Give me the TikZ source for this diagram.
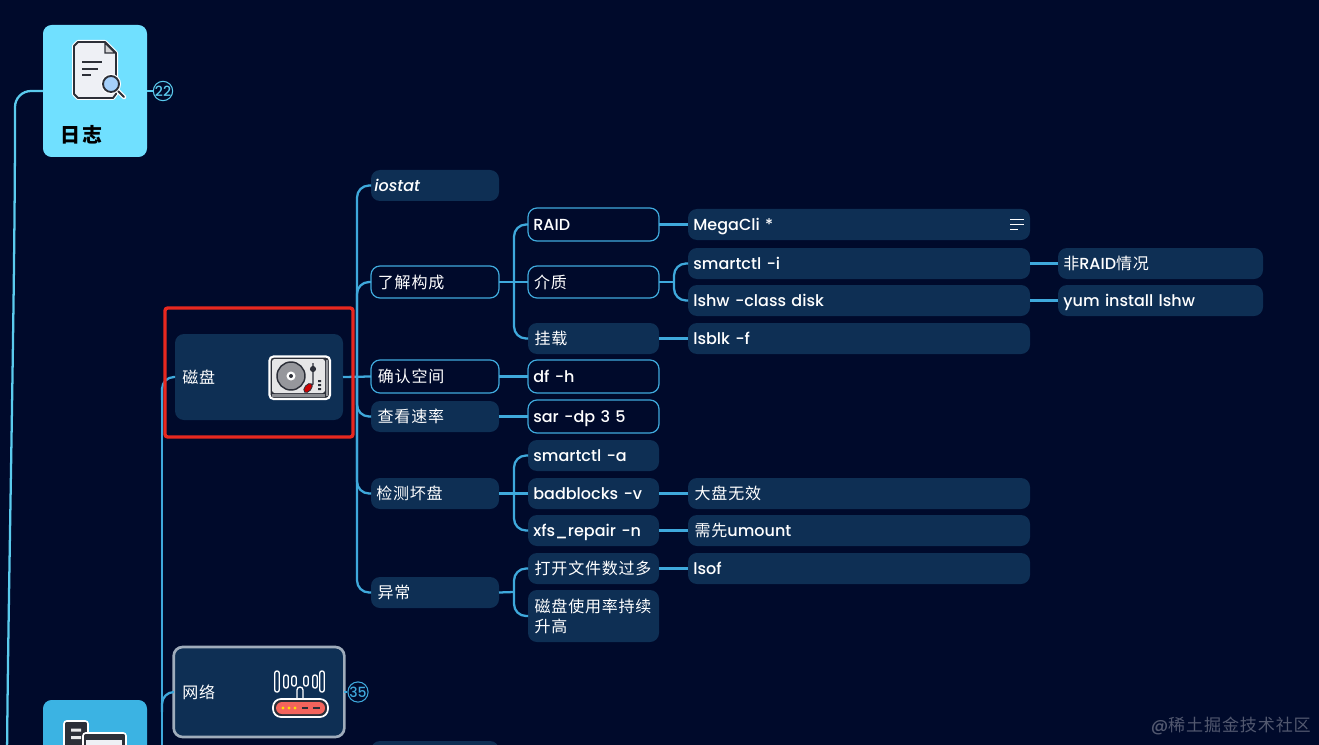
\documentclass[tikz,border=0pt]{standalone}
\usepackage{fontspec}
\setmainfont{Poppins Medium}[ItalicFont={Poppins Medium Italic}]
\newfontfamily\cjk[LetterSpace=5]{Noto Sans CJK SC}
\newfontfamily\cjkwide[LetterSpace=14]{Noto Sans CJK SC}
\newcommand{\C}[1]{{\cjk #1}}
\definecolor{bgc}{HTML}{000A2B}
\definecolor{boxc}{HTML}{0E2F54}
\definecolor{linec}{HTML}{3FA9DC}
\definecolor{toplink}{HTML}{5BCBEE}
\definecolor{redc}{HTML}{E8281F}
\definecolor{logc}{HTML}{70E0FF}
\definecolor{srvc}{HTML}{3BB3E3}
\definecolor{dk}{HTML}{2C2F38}
\definecolor{paper}{HTML}{EEF0F5}
\definecolor{routerc}{HTML}{F4645C}
\definecolor{lensc}{HTML}{A5D0FB}
\tikzset{
  tbase/.style={text=white,align=left,outer sep=0pt,rounded corners=6.75pt,inner ysep=0pt,text height=9.4pt,text depth=0pt,font=\fontsize{12}{15}\selectfont},
  fillbox/.style={tbase,fill=boxc,inner xsep=2.7pt},
  twoline/.style={fillbox,text depth=15pt},
  linebox/.style={tbase,fill=bgc,draw=linec,line width=0.9pt,inner xsep=3.9pt},
  link/.style={draw=linec,line width=1.7pt,rounded corners=9pt},
  toplk/.style={draw=toplink,line width=1.7pt,rounded corners=12pt},
  badge/.style={circle,draw=#1,line width=0.8pt,minimum size=14.5pt,inner sep=0pt,text=#1,fill=bgc,font=\fontsize{10.5}{11}\selectfont},
  ico/.style={draw=dk,line width=1.4pt,line join=round},
  halo/.style={draw=white,line width=3pt,line join=round},
}
\newcommand{\BX}[7]{%
  \pgfmathsetmacro{\cxx}{(#3+#4)/2}\pgfmathsetmacro{\cyy}{(#5+#6)/2}%
  \pgfmathsetmacro{\wdd}{(#4-#3)*0.75}\pgfmathsetmacro{\htt}{(#6-#5)*0.75}%
  \node[#2,minimum width=\wdd pt,minimum height=\htt pt,text width=\wdd pt-8pt] (#1) at (\cxx,\cyy) {#7};}
\begin{document}
\begin{tikzpicture}[x=0.75pt,y=-0.75pt]
\useasboundingbox (0,0) rectangle (1319,745);
\fill[bgc] (0,0) rectangle (1319,745);
\begin{scope}
\clip (0,0) rectangle (1319,745);
% trunks
\coordinate (trunkA) at (15,120);
\coordinate (trunkAb) at (7,760);
\coordinate (trunkB) at (162,400);
\coordinate (trunkBb) at (162,760);
\coordinate (trunkC) at (357,377);
\coordinate (trunkD) at (514,282);
\coordinate (trunkE) at (674,282);
\coordinate (trunkF) at (514,493);
\coordinate (trunkG) at (514,592);

% top-level boxes
\node[fill=logc,rounded corners=6.5pt,minimum width=78pt,minimum height=99pt,inner sep=0pt,outer sep=0pt] (logbox) at (95,91) {};
\node[fill=srvc,rounded corners=6.5pt,minimum width=78pt,minimum height=60pt,inner sep=0pt,outer sep=0pt] (srvbox) at (95,740) {};
\draw[toplk] (logbox.west) -- (15,91) -- (trunkA);
\draw[draw=toplink,line width=1.7pt] (trunkA) .. controls (15,300) and (8,600) .. (trunkAb);
\node[text=black,font=\fontsize{15}{16}\selectfont\cjkwide\bfseries,inner sep=0pt] (logtxt) at (81.5,135) {日志};
\node[badge=toplink] (b22) at (163,91) {22};
\draw[draw=toplink,line width=1.5pt] (logbox.east) -- (b22.west);

% disk / network
\node[tbase,fill=boxc,minimum width=126pt,minimum height=64.5pt,text width=115pt,inner xsep=5.5pt] (disk) at (259,377) {\C{磁盘}};
\node[tbase,fill=boxc,draw=white!60!boxc,line width=2pt,minimum width=128pt,minimum height=67.5pt,text width=115pt,inner xsep=6pt] (net) at (259,692) {\C{网络}};
\draw[draw=linec,line width=1.7pt] (trunkB) -- (trunkBb);
\draw[link] (disk.west) -- (162,377) -- (trunkB);
\draw[link] (net.west) -- (162,692) -- (162,712);
\node[badge=linec] (b35) at (358,692) {35};
\draw[draw=linec,line width=1.5pt] (net.east) -- (b35.west);

% level 2
\BX{iostat}{fillbox}{371}{499}{170}{201}{\hspace{-1.5pt}\textit{iostat}}
\BX{learn}{linebox}{371}{499}{266}{298}{\hspace{1.2pt}\C{了解构成}}
\BX{space}{linebox}{371}{499}{360}{393}{\hspace{1.2pt}\C{确认空间}}
\BX{speed}{fillbox}{371}{499}{401}{432}{\hspace{1pt}\C{查看速率}}
\BX{bad}{fillbox}{371}{499}{478}{509}{\C{检测坏盘}}
\BX{abn}{fillbox}{371}{499}{577}{608}{\hspace{1pt}\C{异常}}
% level 3
\BX{raid}{linebox}{528}{659}{208}{241}{RAID}
\BX{media}{linebox}{528}{659}{266}{298}{\hspace{0.5pt}\C{介质}}
\BX{mount}{fillbox}{528}{659}{323}{354}{\hspace{1pt}\C{挂载}}
\BX{dfh}{linebox}{528}{659}{360}{393}{df -h}
\BX{sar}{linebox}{528}{659}{400}{433}{sar -dp 3 5}
\BX{sma}{fillbox}{528}{659}{440}{471}{smartctl -a}
\BX{bb}{fillbox}{528}{659}{478}{509}{badblocks -v}
\BX{xfs}{fillbox}{528}{659}{515}{546}{xfs\_repair -n}
\BX{openf}{fillbox}{528}{659}{553}{584}{\hspace{1pt}\C{打开文件数过多}}
\BX{usage}{twoline}{528}{659}{590}{642}{\hspace{1pt}\C{磁盘使用率持续}\\\hspace{1pt}\C{升高}}
% level 4
\BX{mega}{fillbox}{688}{1030}{209}{240}{MegaCli *}
\BX{smi}{fillbox}{688}{1030}{248}{279}{smartctl -i}
\BX{lshw}{fillbox}{688}{1030}{285}{316}{lshw -class disk}
\BX{lsblk}{fillbox}{688}{1030}{323}{354}{lsblk -f}
\BX{bigd}{fillbox}{688}{1030}{478}{509}{\hspace{1pt}\C{大盘无效}}
\BX{umt}{fillbox}{688}{1030}{515}{546}{\hspace{1pt}\C{需先}umount}
\BX{lsof}{fillbox}{688}{1030}{553}{584}{lsof}
% level 5
\BX{nonr}{fillbox}{1058}{1263}{248}{279}{\C{非}RAID\C{情况}}
\BX{yum}{fillbox}{1058}{1263}{285}{316}{yum install lshw}
% bottom partial box
\BX{nextb}{fillbox}{371}{499}{741}{772}{}

% connectors
\draw[link] (iostat.west) -| (trunkC);
\draw[link] (abn.west) -| (trunkC);
\draw[link] (learn.west) -| (trunkC);
\draw[link] (speed.west) -| (trunkC);
\draw[link] (bad.west) -| (trunkC);
\draw[link] (disk.east) -- (space.west);
\draw[link] (learn.east) -- (media.west);
\draw[link] (raid.west) -| (trunkD);
\draw[link] (mount.west) -| (trunkD);
\draw[link] (media.east) -- (trunkE);
\draw[link] (smi.west) -| (trunkE);
\draw[link] (lshw.west) -| (trunkE);
\draw[link] (bad.east) -- (bb.west);
\draw[link] (sma.west) -| (trunkF);
\draw[link] (xfs.west) -| (trunkF);
\draw[link] (abn.east) -- (trunkG);
\draw[link] (openf.west) -| (trunkG);
\draw[link] (usage.west) -| (trunkG);
\draw[link] (raid.east) -- (mega.west);
\draw[link] (mount.east) -- (lsblk.west);
\draw[link] (space.east) -- (dfh.west);
\draw[link] (speed.east) -- (sar.west);
\draw[link] (bb.east) -- (bigd.west);
\draw[link] (xfs.east) -- (umt.west);
\draw[link] (openf.east) -- (lsof.west);
\draw[link] (smi.east) -- (nonr.west);
\draw[link] (lshw.east) -- (yum.west);

% red frame
\node[draw=redc,line width=2.5pt,rounded corners=2pt,minimum width=141pt,minimum height=96.75pt,inner sep=0pt] (frame) at (259,372.5) {};

% note icon on MegaCli
\draw[white,line width=1.4pt] (1010,219.5) -- (1024,219.5) (1010,224.5) -- (1024,224.5) (1010,229.5) -- (1018,229.5);

% document icon
\path[halo,fill=white] (78,42) -- (105,42) -- (116,53) -- (116,94) -- (113,98) -- (78,98) -- (74,94) -- (74,46) -- cycle;
\path[ico,fill=paper] (78,42) -- (105,42) -- (116,53) -- (116,94) -- (113,98) -- (78,98) -- (74,94) -- (74,46) -- cycle;
\path[draw=dk,line width=1pt,fill=white!80!dk] (105,43) -- (105,53) -- (115,53) -- cycle;
\draw[dk,line width=1.2pt] (82,62) -- (102,62) (82,69) -- (98,69) (82,75) -- (91,75);
\draw[white,line width=3.4pt,line cap=round] (117,90) -- (124,97);
\draw[dk,line width=1.5pt,line cap=round] (117,90) -- (124,97);
\path[draw=white,line width=2.4pt] (111,84) circle (6.3pt);
\path[ico,fill=lensc] (111,84) circle (6pt);

% turntable icon
\path[draw=white,line width=1.6pt,rounded corners=3pt,fill=dk] (269.5,356.5) rectangle (330,399);
\path[fill=white!88!dk,rounded corners=2pt] (272,359) rectangle (325,393);
\fill[white!50!dk] (325.5,360) rectangle (328,396);
\fill[white!45!dk] (272,393.5) rectangle (325,396.5);
\path[ico,line width=1.1pt,fill=white!50!dk] (291,376) circle (10.5pt);
\fill[white] (291,376) circle (3.4pt);
\fill[dk] (291,376) circle (1.5pt);
\draw[dk,line width=1pt] (313,363) -- (313,384) -- (309,388);
\fill[dk] (313,369) circle (2.3pt);
\path[draw=dk,line width=0.6pt,fill=red!80!black,rotate around={-40:(308,388)}] (308,388) ellipse (2.4pt and 4pt);
\fill[dk] (318,380) rectangle (321,382) (318,384) rectangle (321,386) (318,388) rectangle (321,390);

% router icon
\foreach \xa/\ya/\yb in {277/671/692,286/675/688,294/676/686,306/676/686,315/675/688,322/671/692}{
  \draw[white,line width=1pt,rounded corners=1.5pt] (\xa-2.2,\ya) rectangle (\xa+2.2,\yb);
}
\draw[white,line width=1pt,fill=boxc] (297,700) -- (297,690) arc (180:0:2.25pt) -- (303,700);
\path[draw=white,line width=1.3pt,rounded corners=6pt,fill=dk] (273,699) rectangle (328,717);
\path[fill=routerc,rounded corners=4.5pt] (276,702) rectangle (325,714);
\fill[yellow!80!orange] (283,708) circle (1.3pt) (289,708) circle (1.3pt) (295,708) circle (1.3pt);
\draw[dk,line width=1.2pt] (302,708) -- (308,708) (313,708) -- (320,708);

% server icon
\path[draw=white,line width=1.2pt,fill=dk,rounded corners=2pt] (64,721) rectangle (88,760);
\fill[white!90!dk] (71,728.5) rectangle (81,731.5) (71,736) rectangle (81,739);
\path[draw=white,line width=1.2pt,fill=dk,rounded corners=2pt] (83,733) rectangle (126,770);
\fill[paper] (86,740) rectangle (122,765);

% watermark
\node[text=white!32!bgc,font=\fontsize{12.8}{14}\selectfont,inner sep=0pt,anchor=east] (wm) at (1311,726) {@\C{稀土掘金技术社区}};
\end{scope}
\end{tikzpicture}
\end{document}
